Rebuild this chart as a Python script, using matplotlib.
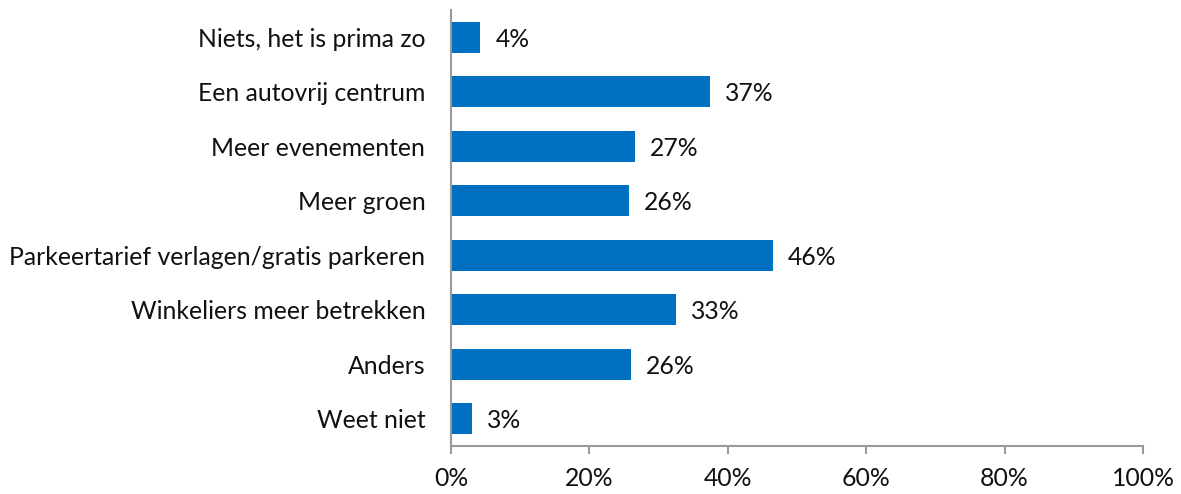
import matplotlib
matplotlib.use("Agg")
import matplotlib.pyplot as plt
import matplotlib.ticker as mtick
import numpy as np

categories = [
    "Niets, het is prima zo",
    "Een autovrij centrum",
    "Meer evenementen",
    "Meer groen",
    "Parkeertarief verlagen/gratis parkeren",
    "Winkeliers meer betrekken",
    "Anders",
    "Weet niet",
]
values = [4.2, 37.4, 26.6, 25.7, 46.5, 32.5, 26.0, 3.0]
value_labels = ["4%", "37%", "27%", "26%", "46%", "33%", "26%", "3%"]
x_ticks = [0, 20, 40, 60, 80, 100]

plt.rcParams["font.family"] = ["Lato", "DejaVu Sans"]

fig = plt.figure(figsize=(11.81, 4.94), dpi=100)
ax = fig.add_axes([0.3819, 0.0972, 0.5859, 0.8826])

y = np.arange(len(categories))
ax.barh(y, values, height=0.57, color="#0070C0")

for yi, v, lab in zip(y, values, value_labels):
    ax.annotate(lab, (v, yi), xytext=(11, -1.5), textcoords="offset points",
                va="center", ha="left", fontsize=17.8, color="#111111")

ax.set_ylim(len(categories) - 0.5, -0.5)
ax.set_xlim(0, 100)
ax.set_yticks(y)
ax.set_yticklabels(categories, fontsize=17.8, color="#111111")
ax.set_xticks(x_ticks)
ax.xaxis.set_major_formatter(mtick.PercentFormatter(100, decimals=0))
ax.tick_params(axis="x", labelsize=17.8, labelcolor="#111111", color="#999999",
               length=6, width=1.5, pad=9)
ax.tick_params(axis="y", length=0, pad=18.5)

for side in ["top", "right"]:
    ax.spines[side].set_visible(False)
for side in ["left", "bottom"]:
    ax.spines[side].set_color("#999999")
    ax.spines[side].set_linewidth(1.5)

fig.savefig("out.png", dpi=100)
